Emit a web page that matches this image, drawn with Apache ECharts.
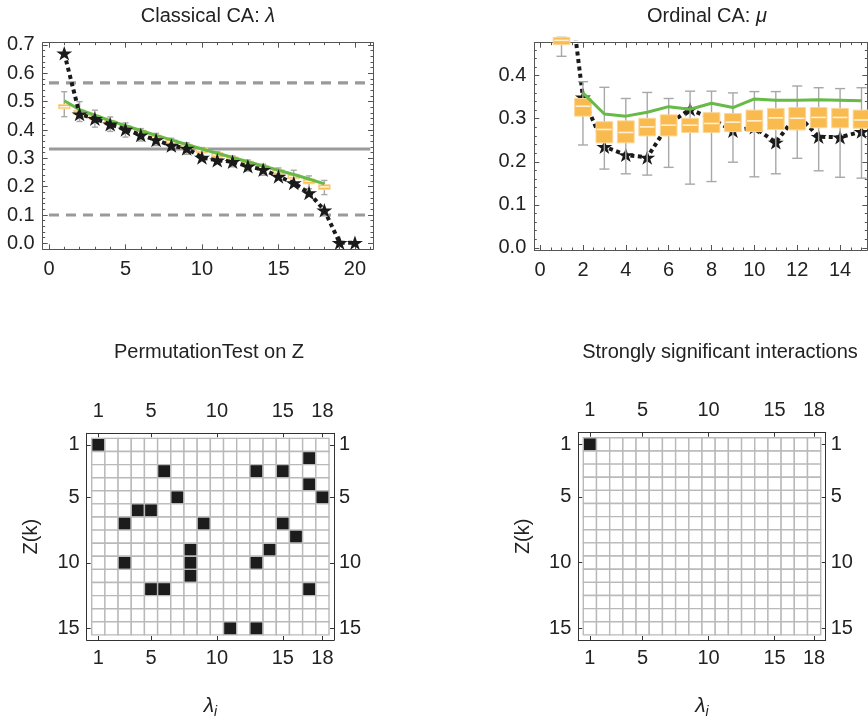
<!DOCTYPE html>
<html><head><meta charset="utf-8">
<script src="https://cdn.jsdelivr.net/npm/echarts@6/dist/echarts.min.js"></script>
<style>html,body{margin:0;padding:0;background:#fff}#c{width:868px;height:720px}</style>
</head><body><div id="c"></div>
<script>
// ---------------- DATA ----------------
// Classical CA: lambda (observed eigenvalues, stars)
const clsIdx   = [1,2,3,4,5,6,7,8,9,10,11,12,13,14,15,16,17,18,19,20];
const clsStars = [0.671,0.456,0.440,0.420,0.402,0.382,0.365,0.345,0.335,0.303,0.293,0.288,0.272,0.260,0.236,0.213,0.178,0.117,0.002,0.002];
// expected values (green) and permutation boxes (orange)
const clsBoxIdx   = [1,2,3,4,5,6,7,8,9,10,11,12,13,14,15,16,17,18];
const clsExpected = [0.503,0.472,0.452,0.433,0.415,0.398,0.381,0.365,0.349,0.333,0.318,0.303,0.288,0.273,0.258,0.243,0.227,0.210];
const clsLow  = [0.447,0.430,0.410,0.395,0.375,0.361,0.345,0.329,0.314,0.299,0.284,0.270,0.255,0.240,0.226,0.210,0.193,0.172];
const clsQ1   = [0.475,0.454,0.436,0.418,0.400,0.383,0.366,0.350,0.334,0.319,0.304,0.289,0.274,0.259,0.244,0.228,0.210,0.190];
const clsMed  = [0.482,0.462,0.444,0.426,0.408,0.391,0.374,0.358,0.342,0.327,0.312,0.297,0.282,0.267,0.252,0.236,0.219,0.199];
const clsQ3   = [0.490,0.470,0.452,0.434,0.416,0.399,0.382,0.366,0.350,0.335,0.320,0.305,0.290,0.275,0.260,0.244,0.227,0.207];
const clsHigh = [0.535,0.500,0.470,0.446,0.425,0.405,0.388,0.371,0.355,0.338,0.323,0.308,0.294,0.279,0.266,0.258,0.238,0.222];
const clsRefSolid  = [0.333];
const clsRefDashed = [0.566, 0.100];
const clsRefSpan   = [0, 21];
const clsXTicks = [0,5,10,15,20];
const clsYTicks = [0,0.1,0.2,0.3,0.4,0.5,0.6,0.7];

// Ordinal CA: mu
const ordIdx   = [1,2,3,4,5,6,7,8,9,10,11,12,13,14,15];
const ordStars = [0.750,0.350,0.235,0.216,0.210,0.288,0.322,0.300,0.272,0.280,0.245,0.310,0.258,0.257,0.270];
const ordExpIdx   = [2,3,4,5,6,7,8,9,10,11,12,13,14,15];
const ordExpected = [0.360,0.311,0.306,0.315,0.328,0.322,0.336,0.326,0.346,0.343,0.343,0.344,0.343,0.342];
const ordBoxIdx = [1,2,3,4,5,6,7,8,9,10,11,12,13,14,15];
const ordLow  = [0.445,0.239,0.183,0.172,0.169,0.187,0.148,0.154,0.199,0.165,0.172,0.208,0.179,0.164,0.162];
const ordQ1   = [0.472,0.306,0.244,0.244,0.260,0.260,0.268,0.268,0.270,0.270,0.275,0.274,0.279,0.279,0.278];
const ordMed  = [0.482,0.329,0.275,0.268,0.281,0.285,0.285,0.289,0.292,0.295,0.302,0.301,0.303,0.303,0.297];
const ordQ3   = [0.489,0.347,0.293,0.295,0.301,0.309,0.301,0.314,0.312,0.320,0.324,0.326,0.326,0.324,0.320];
const ordHigh = [0.489,0.386,0.373,0.347,0.361,0.347,0.364,0.364,0.360,0.363,0.363,0.376,0.372,0.370,0.372];
const ordXTicks = [0,2,4,6,8,10,12,14];
const ordYTicks = [0,0.1,0.2,0.3,0.4];

// Matrices: [column (lambda_i), row (Z(k))]
const matCols = 18, matRows = 15;
const permHits = [[1,1],[17,2],[6,3],[13,3],[15,3],[17,4],[7,5],[18,5],[4,6],[5,6],[3,7],[9,7],[15,7],[16,8],[8,9],[14,9],[3,10],[8,10],[13,10],[8,11],[5,12],[6,12],[17,12],[11,15],[13,15]];
const strongHits = [[1,1]];
const matXTicks = [1,5,10,15,18];
const matYTicks = [1,5,10,15];

// ---------------- STYLE ----------------
const FONT = "'Liberation Sans', Arial, sans-serif";
const TFS = 20;
const ORANGE = '#F9BB50', GREEN = '#66BA45', GREYREF = '#9a9a9a';
const FRAME = '#555', MFRAME = '#333';
const STAR = 'path://M0,-10 L2.245,-3.09 L9.511,-3.09 L3.633,1.18 L5.878,8.09 L0,3.82 L-5.878,8.09 L-3.633,1.18 L-9.511,-3.09 L-2.245,-3.09 Z';

function range(a, b, s){ const r=[]; for(let v=a; v<=b+1e-9; v+=s) r.push(+v.toFixed(4)); return r; }

function axis(kind, grid, pos, min, max, ticks, len, o){
  o = o || {};
  const a = {
    type:'value', gridIndex:grid, position:pos, min:min, max:max, inverse: !!o.inverse,
    axisLine:{show:o.line!==false, onZero:false, lineStyle:{color:o.color||FRAME, width:1}},
    axisTick:{show:true, inside:true, length:len, customValues:ticks, lineStyle:{color:o.color||FRAME, width:1}},
    axisLabel: o.labels ? {show:true, customValues:o.labels, formatter:o.fmt, margin:o.margin, color:'#222', fontSize:TFS, fontFamily:FONT} : {show:false},
    splitLine:{show:false}
  };
  if (o.name) Object.assign(a, o.name);
  return a;
}

const G = [
  {left:42.7, top:42.7, width:330.3, height:206.6},   // classical
  {left:534.3, top:42.7, width:333, height:207.3},    // ordinal
  {left:86.7, top:433.3, width:247.3, height:206.7},  // permutation matrix
  {left:578.3, top:432.7, width:247.4, height:208}    // strong matrix
];
const clsX=[-0.41,21.18], clsY=[-0.021,0.708], ordX=[-0.27,15.27], ordY=[-0.005,0.4766];
const matX=[0.12,18.88], matY=[0.11,15.89];

const f1 = v => v.toFixed(1), f0 = v => String(v);
const lamName = {name:'{l|λ}{s|i}', nameLocation:'middle', nameGap:53,
  nameTextStyle:{rich:{l:{fontSize:21, fontStyle:'italic', fontFamily:FONT, color:'#222'}, s:{fontSize:14, fontStyle:'italic', fontFamily:FONT, color:'#222', padding:[12,0,0,0]}}}};
const zName = {name:'Z(k)', nameLocation:'middle', nameGap:45, nameRotate:90, nameTextStyle:{fontSize:TFS, fontFamily:FONT, color:'#222'}};

const xAxes = [
  axis('x',0,'bottom',clsX[0],clsX[1],clsXTicks,5,{labels:clsXTicks,fmt:f0,margin:10}),
  axis('x',0,'bottom',clsX[0],clsX[1],range(0,21,1),2.5,{line:false}),
  axis('x',0,'top',clsX[0],clsX[1],clsXTicks,5),
  axis('x',0,'top',clsX[0],clsX[1],range(0,21,1),2.5,{line:false}),
  axis('x',1,'bottom',ordX[0],ordX[1],ordXTicks,5,{labels:ordXTicks,fmt:f0,margin:10}),
  axis('x',1,'bottom',ordX[0],ordX[1],range(0,15,0.5),2.5,{line:false}),
  axis('x',1,'top',ordX[0],ordX[1],ordXTicks,5),
  axis('x',1,'top',ordX[0],ordX[1],range(0,15,0.5),2.5,{line:false}),
  axis('x',2,'bottom',matX[0],matX[1],matXTicks,4,{labels:matXTicks,fmt:f0,margin:8,color:MFRAME,name:lamName}),
  axis('x',2,'top',matX[0],matX[1],matXTicks,4,{labels:matXTicks,fmt:f0,margin:12,color:MFRAME}),
  axis('x',3,'bottom',matX[0],matX[1],matXTicks,4,{labels:matXTicks,fmt:f0,margin:8,color:MFRAME,name:lamName}),
  axis('x',3,'top',matX[0],matX[1],matXTicks,4,{labels:matXTicks,fmt:f0,margin:12,color:MFRAME})
];
const yAxes = [
  axis('y',0,'left',clsY[0],clsY[1],clsYTicks,5,{labels:clsYTicks,fmt:f1,margin:8}),
  axis('y',0,'left',clsY[0],clsY[1],range(0,0.7,0.02),2.5,{line:false}),
  axis('y',0,'right',clsY[0],clsY[1],clsYTicks,5),
  axis('y',0,'right',clsY[0],clsY[1],range(0,0.7,0.02),2.5,{line:false}),
  axis('y',1,'left',ordY[0],ordY[1],ordYTicks,5,{labels:ordYTicks,fmt:f1,margin:8}),
  axis('y',1,'left',ordY[0],ordY[1],range(0,0.46,0.02),2.5,{line:false}),
  axis('y',1,'right',ordY[0],ordY[1],ordYTicks,5),
  axis('y',1,'right',ordY[0],ordY[1],range(0,0.46,0.02),2.5,{line:false}),
  axis('y',2,'left',matY[0],matY[1],matYTicks,4,{labels:matYTicks,fmt:f0,margin:7,color:MFRAME,inverse:true,name:zName}),
  axis('y',2,'right',matY[0],matY[1],matYTicks,4,{labels:matYTicks,fmt:f0,margin:5,color:MFRAME,inverse:true}),
  axis('y',3,'left',matY[0],matY[1],matYTicks,4,{labels:matYTicks,fmt:f0,margin:7,color:MFRAME,inverse:true,name:zName}),
  axis('y',3,'right',matY[0],matY[1],matYTicks,4,{labels:matYTicks,fmt:f0,margin:5,color:MFRAME,inverse:true})
];

// ---------------- SERIES ----------------
function boxSeries(xi, yi, idx, lo, q1, md, q3, hi, boxW, capW, z){
  const data = idx.map((x,i)=>[x, lo[i], q1[i], md[i], q3[i], hi[i]]);
  return {
    type:'custom', xAxisIndex:xi, yAxisIndex:yi, z:z, data:data, encode:{x:0, y:[1,2,3,4,5]},
    renderItem:function(params, api){
      const x = api.value(0);
      const pLo = api.coord([x, api.value(1)]), pQ1 = api.coord([x, api.value(2)]);
      const pMd = api.coord([x, api.value(3)]), pQ3 = api.coord([x, api.value(4)]);
      const pHi = api.coord([x, api.value(5)]);
      const hw = api.size([boxW, 0])[0] / 2, hc = api.size([capW, 0])[0] / 2;
      const ws = {stroke:'#a8a8a8', lineWidth:1.4};
      return {type:'group', children:[
        {type:'line', shape:{x1:pLo[0], y1:pLo[1], x2:pHi[0], y2:pHi[1]}, style:ws},
        {type:'line', shape:{x1:pLo[0]-hc, y1:pLo[1], x2:pLo[0]+hc, y2:pLo[1]}, style:ws},
        {type:'line', shape:{x1:pHi[0]-hc, y1:pHi[1], x2:pHi[0]+hc, y2:pHi[1]}, style:ws},
        {type:'rect', shape:{x:pQ3[0]-hw, y:pQ3[1], width:2*hw, height:pQ1[1]-pQ3[1]}, style:{fill:ORANGE, stroke:'#FCD696', lineWidth:1}},
        {type:'line', shape:{x1:pMd[0]-hw+1, y1:pMd[1], x2:pMd[0]+hw-1, y2:pMd[1]}, style:{stroke:'#FFF1D6', lineWidth:1.6}}
      ]};
    }
  };
}

function matrixSeries(xi, yi, hits, z){
  const hitSet = new Set(hits.map(h => h[0] + ',' + h[1]));
  const data = [];
  for (let r = 1; r <= matRows; r++) for (let c = 1; c <= matCols; c++) data.push([c, r, hitSet.has(c + ',' + r) ? 1 : 0]);
  return {
    type:'custom', xAxisIndex:xi, yAxisIndex:yi, z:z, data:data, encode:{x:0, y:1},
    renderItem:function(params, api){
      const c = api.value(0), r = api.value(1), v = api.value(2);
      const p0 = api.coord([c - 0.5, r - 0.5]), p1 = api.coord([c + 0.5, r + 0.5]);
      return {type:'rect', shape:{x:p0[0], y:p0[1], width:p1[0]-p0[0], height:p1[1]-p0[1]},
        style:{fill: v ? '#1c1c1c' : '#ffffff', stroke:'#b9b9b9', lineWidth:1.4}};
    }
  };
}

function refLine(xi, yi, level, dashed){
  return {type:'line', xAxisIndex:xi, yAxisIndex:yi, z:1, silent:true, symbol:'none',
    data: clsRefSpan.map(x => [x, level]),
    lineStyle:{color:GREYREF, width:3.2, type: dashed ? [10,7] : 'solid', cap:'butt'}};
}

const series = [];
clsRefSolid.forEach(v => series.push(refLine(0, 0, v, false)));
clsRefDashed.forEach(v => series.push(refLine(0, 0, v, true)));
series.push(boxSeries(0, 0, clsBoxIdx, clsLow, clsQ1, clsMed, clsQ3, clsHigh, 0.76, 0.4, 3));
series.push({type:'line', xAxisIndex:0, yAxisIndex:0, z:4, symbol:'none', data: clsBoxIdx.map((x,i)=>[x, clsExpected[i]]),
  lineStyle:{color:GREEN, width:3}});
series.push({type:'line', xAxisIndex:0, yAxisIndex:0, z:5, symbol:STAR, symbolSize:[16,15.2], symbolKeepAspect:true,
  data: clsIdx.map((x,i)=>[x, clsStars[i]]), itemStyle:{color:'#1a1a1a'},
  lineStyle:{color:'#1a1a1a', width:4, type:[4,3.5], cap:'butt'}});

series.push({type:'line', xAxisIndex:4, yAxisIndex:4, z:2, symbol:STAR, symbolSize:[16,15.2], symbolKeepAspect:true, clip:true,
  data: ordIdx.map((x,i)=>[x, ordStars[i]]), itemStyle:{color:'#1a1a1a'},
  lineStyle:{color:'#1a1a1a', width:4, type:[4,3.5], cap:'butt'}});
series.push(boxSeries(4, 4, ordBoxIdx, ordLow, ordQ1, ordMed, ordQ3, ordHigh, 0.78, 0.47, 3));
series.push({type:'line', xAxisIndex:4, yAxisIndex:4, z:4, symbol:'none', data: ordExpIdx.map((x,i)=>[x, ordExpected[i]]),
  lineStyle:{color:GREEN, width:3}});

series.push(matrixSeries(8, 8, permHits, 2));
series.push(matrixSeries(10, 10, strongHits, 2));

const titleStyle = {fontSize:TFS, fontFamily:FONT, fill:'#222', align:'center', verticalAlign:'middle'};
const rich = {i:{fontSize:TFS, fontFamily:FONT, fontStyle:'italic', fill:'#222'}, n:{fontSize:TFS, fontFamily:FONT, fill:'#222'}};
const graphics = [
  {type:'text', x:208, y:16, style:Object.assign({}, titleStyle, {text:'{n|Classical CA: }{i|λ}', rich:rich})},
  {type:'text', x:707, y:16, style:Object.assign({}, titleStyle, {text:'{n|Ordinal CA: }{i|μ}', rich:rich})},
  {type:'text', x:209, y:352, style:Object.assign({}, titleStyle, {text:'PermutationTest on Z'})},
  {type:'text', x:720, y:352, style:Object.assign({}, titleStyle, {text:'Strongly significant interactions'})}
];

const chart = echarts.init(document.getElementById('c'), null, {renderer:'canvas'});
chart.setOption({
  animation:false, backgroundColor:'#ffffff',
  grid: G.map(g => Object.assign({containLabel:false}, g)),
  xAxis: xAxes, yAxis: yAxes, series: series, graphic: graphics
});
</script></body></html>
